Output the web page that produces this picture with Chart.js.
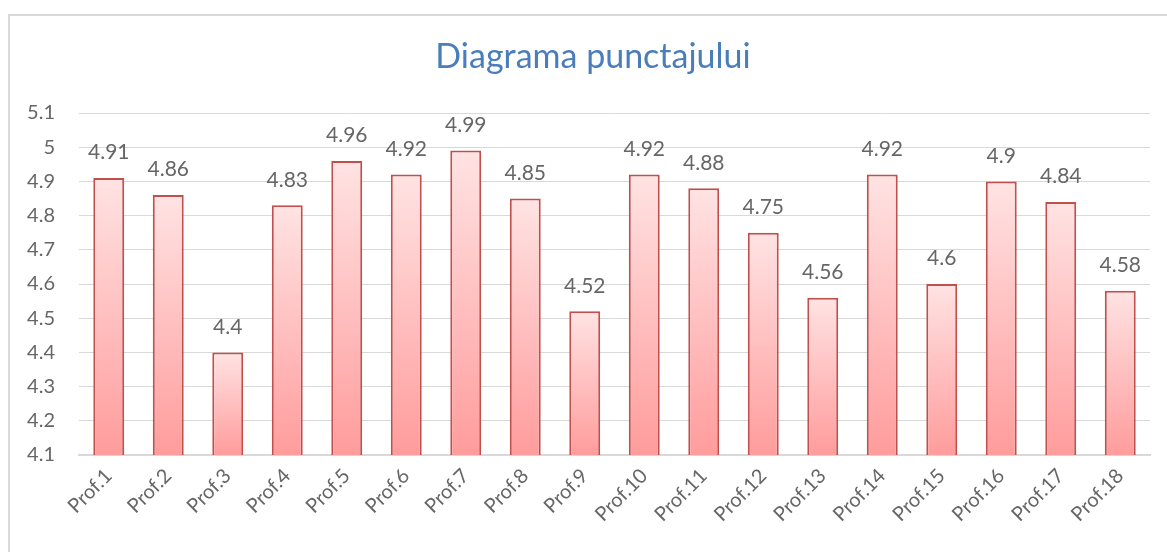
<!DOCTYPE html>
<html>
<head>
<meta charset="utf-8">
<script src="https://cdn.jsdelivr.net/npm/chart.js@4.4.0/dist/chart.umd.min.js"></script>
<style>
    html, body { margin: 0; padding: 0; background: #ffffff; }
    #wrap { width: 1167px; height: 552px; position: relative; }
</style>
</head>
<body>
<div id="wrap"><canvas id="scoreChart" width="1167" height="552"></canvas></div>
<script>
// chart data
var categories = ['Prof.1', 'Prof.2', 'Prof.3', 'Prof.4', 'Prof.5', 'Prof.6', 'Prof.7', 'Prof.8', 'Prof.9',
    'Prof.10', 'Prof.11', 'Prof.12', 'Prof.13', 'Prof.14', 'Prof.15', 'Prof.16', 'Prof.17', 'Prof.18'];
var scores = [4.91, 4.86, 4.4, 4.83, 4.96, 4.92, 4.99, 4.85, 4.52, 4.92, 4.88, 4.75, 4.56, 4.92, 4.6, 4.9, 4.84, 4.58];
var yTicks = [4.1, 4.2, 4.3, 4.4, 4.5, 4.6, 4.7, 4.8, 4.9, 5, 5.1];
var chartTitle = 'Diagrama punctajului';

var fontFamily = "Lato, 'Open Sans', sans-serif";
var textGray = '#666666';

// gradient per bar: light at top, darker pink at bottom
function barGradient(context) {
    var chart = context.chart;
    if (!chart.chartArea || !chart.scales.y) return '#ffc4c4';
    var yScale = chart.scales.y;
    var v = context.raw;
    var top = yScale.getPixelForValue(v);
    var bottom = yScale.getPixelForValue(yScale.min);
    if (!isFinite(top) || !isFinite(bottom) || bottom - top < 1) return '#ffc4c4';
    var g = chart.ctx.createLinearGradient(0, top, 0, bottom);
    g.addColorStop(0, '#ffe3e3');
    g.addColorStop(1, '#ff9c9c');
    return g;
}

// outer frame + title (title centre sits right of the canvas centre in the original)
var frameAndTitle = {
    id: 'frameAndTitle',
    beforeDraw: function (chart) {
        var ctx = chart.ctx;
        ctx.save();
        ctx.strokeStyle = '#d9d9d9';
        ctx.lineWidth = 2;
        ctx.strokeRect(9, 15, 1300, 700);
        ctx.font = '34px ' + fontFamily;
        ctx.fillStyle = '#4a7ebb';
        ctx.textAlign = 'center';
        ctx.textBaseline = 'middle';
        ctx.fillText(chartTitle, 593, 57);
        ctx.restore();
    }
};

var valueLabels = {
    id: 'valueLabels',
    afterDatasetsDraw: function (chart) {
        var ctx = chart.ctx;
        var meta = chart.getDatasetMeta(0);
        ctx.save();
        ctx.font = '21px ' + fontFamily;
        ctx.fillStyle = textGray;
        ctx.textAlign = 'center';
        ctx.textBaseline = 'bottom';
        for (var i = 0; i < meta.data.length; i++) {
            var bar = meta.data[i];
            ctx.fillText(String(scores[i]), bar.x, bar.y - 15);
        }
        ctx.restore();
    }
};

new Chart(document.getElementById('scoreChart'), {
    type: 'bar',
    data: {
        labels: categories,
        datasets: [{
            data: scores,
            backgroundColor: barGradient,
            borderColor: '#c0504d',
            borderWidth: 2,
            borderSkipped: false,
            categoryPercentage: 0.52,
            barPercentage: 1
        }]
    },
    options: {
        responsive: false,
        animation: false,
        events: [],
        layout: { padding: { left: 0, right: 17, top: 113, bottom: 0 } },
        plugins: {
            legend: { display: false },
            tooltip: { enabled: false },
            title: { display: false }
        },
        scales: {
            x: {
                grid: { display: false, drawTicks: false },
                border: { color: '#d9d9d9', width: 2 },
                ticks: {
                    color: textGray,
                    font: { family: fontFamily, size: 20 },
                    minRotation: 45,
                    maxRotation: 45,
                    autoSkip: false,
                    padding: 9
                },
                afterFit: function (scale) { scale.height = 97; }
            },
            y: {
                min: 4.1,
                max: 5.1,
                grid: { color: '#d9d9d9', drawTicks: false },
                border: { display: false },
                ticks: {
                    color: textGray,
                    font: { family: fontFamily, size: 20 },
                    padding: 24,
                    callback: function (v) { return String(Number(v.toFixed(1))); }
                },
                afterBuildTicks: function (scale) {
                    scale.ticks = yTicks.map(function (t) { return { value: t }; });
                },
                afterFit: function (scale) { scale.width = 79; }
            }
        }
    },
    plugins: [frameAndTitle, valueLabels]
});
</script>
</body>
</html>
